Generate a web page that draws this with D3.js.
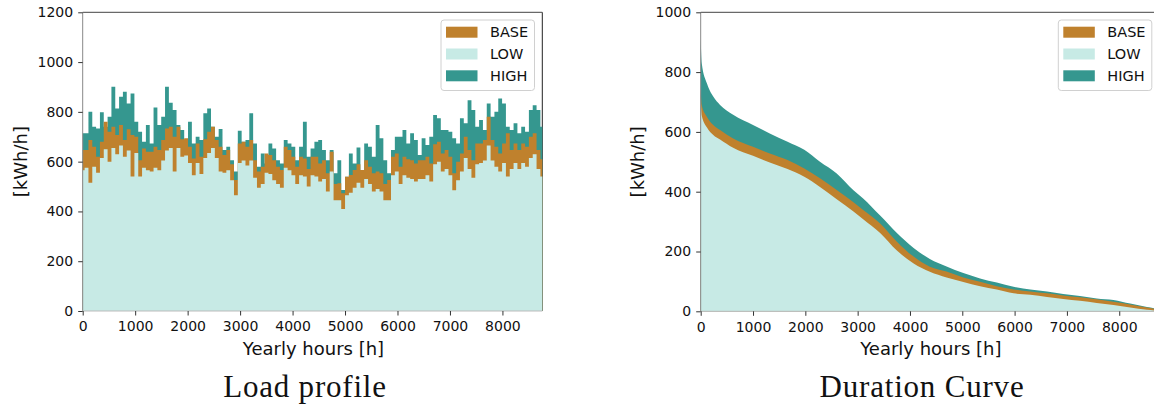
<!DOCTYPE html>
<html><head><meta charset="utf-8">
<script src="https://cdn.jsdelivr.net/npm/d3@7"></script>
<style>body{margin:0;background:#fff}svg{display:block}</style>
</head><body>
<svg id="c" width="1154" height="406"></svg>
<script>
// ---- data ----
const hourStep = 73; // hours between load-profile samples
const loadHigh = [714,714,800,740,733,798,740,780,901,814,
861,881,834,874,760,720,680,747,673,818,
747,780,901,837,807,747,727,687,760,673,
700,687,794,814,740,700,731,647,660,606,
560,724,680,687,794,673,580,633,593,673,
653,606,593,687,673,660,606,660,760,620,
653,680,687,647,606,647,553,606,486,539,
633,593,657,566,673,660,620,747,694,606,
553,647,700,700,727,673,714,687,627,694,
667,700,787,774,727,727,720,694,673,774,
754,847,807,740,767,727,834,780,800,854,
834,740,727,754,714,740,720,807,827,807,740];
const loadBase = [647,647,687,660,620,680,760,720,740,707,
747,687,730,707,700,606,653,640,640,660,
647,687,733,740,700,740,690,694,660,613,
673,620,690,720,740,687,660,627,647,590,
526,673,680,660,687,606,560,580,633,627,
606,580,566,660,647,620,580,620,613,570,
620,620,593,606,553,640,510,513,473,539,
546,566,590,566,606,580,553,560,553,510,
526,620,633,580,620,610,606,593,606,606,
620,593,670,680,633,647,620,553,600,633,
700,647,606,673,673,687,780,687,660,633,
673,714,647,673,647,673,660,700,714,647,610];
const loadLow = [565,575,515,580,555,615,650,600,655,630,
665,620,645,540,635,540,575,565,560,575,
565,605,645,655,560,655,620,625,595,545,
595,550,615,635,655,615,560,555,565,525,
465,595,605,585,605,535,495,510,555,550,
525,510,495,575,565,545,510,545,540,500,
545,540,520,530,480,560,445,445,410,465,
475,495,515,495,530,510,480,490,480,445,
445,545,560,510,545,535,530,520,530,530,
545,520,590,600,560,570,545,485,525,560,
615,570,535,590,595,605,665,605,580,560,
595,540,570,595,570,595,580,615,630,570,540];

const durHours = [0,20,120,240,370,620,1000,1320,1660,1980,2280,2600,2920,3100,3430,3750,4070,4380,4700,5020,5340,5660,5980,6300,6620,6930,7250,7570,7890,8210,8530,8760];
const durHigh = [910,830,762,718,690,657,623,595,567,540,500,461,405,378,320,262,212,175,150,128,110,96,82,73,66,58,51,43,38,26,14,8];
const durBase = [740,690,650,623,606,578,550,528,506,478,445,406,365,340,294,233,183,149,133,113,99,84,73,66,60,53,47,40,32,23,13,6];
const durLow  = [720,655,615,590,575,547,520,498,476,450,416,375,334,309,262,203,160,132,113,98,84,73,60,55,48,41,35,28,21,13,5,2];

const xTicks = [0,1000,2000,3000,4000,5000,6000,7000,8000];
const loadYTicks = [0,200,400,600,800,1000,1200];
const durYTicks = [0,200,400,600,800,1000];
const legendNames = ["BASE","LOW","HIGH"];
const colors = {BASE:"#bf812d", LOW:"#c7eae5", HIGH:"#35978f"};
const drawOrder = ["HIGH","BASE","LOW"];

// ---- drawing ----
const svg = d3.select("#c");
const FONT = "DejaVu Sans";

function panel(o) {
  const g = svg.append("g");
  const x = d3.scaleLinear().domain([0, 8760]).range([o.left, o.right]);
  const y = d3.scaleLinear().domain([0, o.ymax]).range([o.bottom, o.top]);

  g.append("line").attr("x1", o.right).attr("x2", o.right).attr("y1", o.top).attr("y2", o.bottom)
    .attr("stroke", "#222").attr("stroke-width", 1);

  const series = {HIGH: o.high, BASE: o.base, LOW: o.low};
  drawOrder.forEach(name => {
    const vals = series[name];
    const area = d3.area()
      .x((d, i) => x(o.xs[i]))
      .y0(y(0))
      .y1(d => y(d))
      .curve(o.curve);
    g.append("path").datum(vals).attr("d", area).attr("fill", colors[name]);
  });

  g.append("line").attr("x1", o.left).attr("x2", o.right).attr("y1", o.top).attr("y2", o.top)
    .attr("stroke", "#444").attr("stroke-width", 1);
  g.append("line").attr("x1", o.left).attr("x2", o.left).attr("y1", o.top).attr("y2", o.bottom)
    .attr("stroke", "#888").attr("stroke-width", 1);
  g.append("line").attr("x1", o.left).attr("x2", o.right).attr("y1", o.bottom).attr("y2", o.bottom)
    .attr("stroke", "#bbb").attr("stroke-width", 1);

  const xa = g.append("g").attr("transform", `translate(0,${o.bottom})`)
    .call(d3.axisBottom(x).tickValues(xTicks).tickFormat(d3.format("d")).tickSize(4.5).tickPadding(6));
  const ya = g.append("g").attr("transform", `translate(${o.left},0)`)
    .call(d3.axisLeft(y).tickValues(o.yTicks).tickFormat(d3.format("d")).tickSize(4.5).tickPadding(5));
  [xa, ya].forEach(a => {
    a.select(".domain").remove();
    a.selectAll(".tick line").attr("stroke", "#333");
    a.selectAll(".tick text").attr("font-family", FONT).attr("font-size", 14).attr("fill", "#111");
  });

  g.append("text").attr("x", (o.left + o.right) / 2 + 1).attr("y", 355)
    .attr("text-anchor", "middle").attr("font-family", FONT).attr("font-size", 18).attr("fill", "#111")
    .text("Yearly hours [h]");
  g.append("text").attr("transform", `translate(${o.ylabX},${(o.top + o.bottom) / 2}) rotate(-90)`)
    .attr("text-anchor", "middle").attr("dy", "0.35em").attr("font-family", FONT).attr("font-size", 18).attr("fill", "#111")
    .text("[kWh/h]");

  g.append("text").attr("x", o.titleX).attr("y", 397)
    .attr("text-anchor", "middle").attr("font-family", "Liberation Serif, serif").attr("font-size", 31)
    .attr("letter-spacing", 0.8).attr("fill", "#111")
    .text(o.title);

  const lg = g.append("g").attr("transform", `translate(${o.legX},20)`);
  lg.append("rect").attr("x", 0).attr("y", 0).attr("width", 93.5).attr("height", 70.5).attr("rx", 3)
    .attr("fill", "#fff").attr("fill-opacity", 0.85).attr("stroke", "#d0d0d0");
  legendNames.forEach((n, i) => {
    const yy = 6.7 + i * 21.8;
    lg.append("rect").attr("x", 5).attr("y", yy).attr("width", 31.5).attr("height", 11).attr("fill", colors[n]);
    lg.append("text").attr("x", 49).attr("y", yy + 5.5).attr("dy", "0.36em")
      .attr("font-family", FONT).attr("font-size", 14.5).attr("fill", "#111").text(n);
  });
}

const loadHours = loadHigh.map((d, i) => i * hourStep);

panel({left: 82.7, right: 542.3, top: 12.3, bottom: 311, ymax: 1200, yTicks: loadYTicks,
  xs: loadHours, high: loadHigh, base: loadBase, low: loadLow, curve: d3.curveStep,
  title: "Load profile", titleX: 305, ylabX: 21, legX: 441});

panel({left: 700.7, right: 1159, top: 12.3, bottom: 311.3, ymax: 1000, yTicks: durYTicks,
  xs: durHours, high: durHigh, base: durBase, low: durLow, curve: d3.curveMonotoneX,
  title: "Duration Curve", titleX: 922, ylabX: 637.5, legX: 1058.3});
</script>
</body></html>
